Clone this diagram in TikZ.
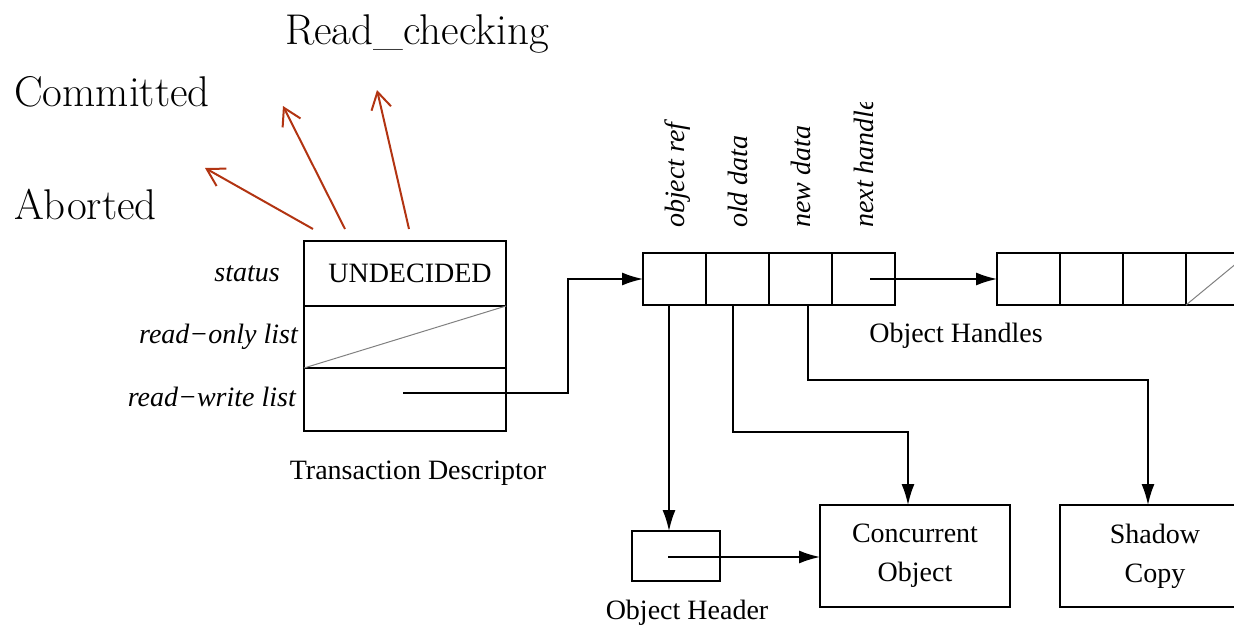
\documentclass[tikz,border=0pt]{standalone}
\usepackage{fontspec}
\usetikzlibrary{arrows.meta}
\newfontfamily\figfont{Liberation Serif}
\definecolor{statered}{RGB}{178,52,18}

\begin{document}
\begin{tikzpicture}[x=1pt,y=-1pt,
  box/.style={draw, line width=1.6pt, inner sep=0pt, outer sep=0pt, anchor=north west,
    font=\figfont\fontsize{28}{39}\selectfont, align=center},
  lbl/.style={font=\figfont\itshape\fontsize{28}{30}\selectfont, inner sep=0pt},
  caption/.style={font=\figfont\fontsize{28}{30}\selectfont, inner sep=0pt, anchor=base},
  state/.style={font=\fontsize{43}{46}\selectfont, inner sep=0pt, anchor=base west},
  ptr/.style={line width=1.6pt, -{Latex[length=21pt,width=13pt]}},
  move/.style={draw=statered, line width=2pt,
    -{Straight Barb[length=17pt,width=20pt,line width=2pt]}},
  nil/.style={draw=gray, line width=1pt}
]
\useasboundingbox (0,0) rectangle (1234,629);
\clip (0,0) rectangle (1234,629);

% possible next states of a transaction
\node[state] (rc) at (285,44) {Read\_checking};
\node[state] (cm) at (14,106) {Committed};
\node[state] (ab) at (14,219) {Aborted};

% transaction descriptor
\node[box, minimum width=202pt, minimum height=65pt] (st) at (304,241) {\hspace*{10pt}UNDECIDED};
\node[box, minimum width=202pt, minimum height=62pt] (ro) at (304,306) {};
\node[box, minimum width=202pt, minimum height=63pt] (rw) at (304,368) {};
\draw[nil] (ro.south west) -- (ro.north east);
\node[lbl, anchor=base east] (lst) at (280,281) {status};
\node[lbl, anchor=base east] (lro) at (298,343) {read−only list};
\node[lbl, anchor=base east] (lrw) at (296,406) {read−write list};
\node[caption] (ltd) at (418,479) {Transaction Descriptor};

% state transitions
\coordinate (sa) at (313,229);
\coordinate (sb) at (345,229);
\coordinate (sc0) at (409,229);
\coordinate (ta) at (205,168);
\coordinate (tb) at (283,106);
\coordinate (tc) at (377,90);
\draw[move] (sa) -- (ta);
\draw[move] (sb) -- (tb);
\draw[move] (sc0) -- (tc);

% first object handle
\foreach \i/\x in {1/643,2/706,3/769,4/832}
  \node[box, minimum width=63pt, minimum height=52pt] (h\i) at (\x,253) {};
\node[lbl, rotate=90, anchor=base west] (lor) at (684.5,228) {object ref};
\node[lbl, rotate=90, anchor=base west] (lod) at (747.5,228) {old data};
\node[lbl, rotate=90, anchor=base west] (lnd) at (810.5,228) {new data};
\begin{scope}
  \clip (840,102) rectangle (900,240);
  \node[lbl, rotate=90, anchor=base west] (lnh) at (873.5,228) {next handle};
\end{scope}
\node[caption] (loh) at (956,342) {Object Handles};

% second object handle (end of list)
\foreach \i/\x in {1/997,2/1060,3/1123,4/1186}
  \node[box, minimum width=63pt, minimum height=52pt] (g\i) at (\x,253) {};
\draw[nil] (g4.south west) -- (g4.north east);

% objects
\node[box, minimum width=88pt, minimum height=50pt] (oh) at (632,531) {};
\node[caption] (lhd) at (687,619) {Object Header};
\node[box, minimum width=190pt, minimum height=102pt] (co) at (820,505) {Concurrent\\Object};
\node[box, minimum width=190pt, minimum height=102pt] (sh) at (1060,505) {Shadow\\Copy};

% pointers
\coordinate (rwp) at (403,393);
\coordinate (rwk) at (568,393);
\draw[ptr] (rwp) -- (rwk) |- (h1.west);
\coordinate (nhp) at (870,279);
\draw[ptr] (nhp) -- (g1.west);
\coordinate (orp) at (669,305);
\draw[ptr] (orp) -- (orp |- oh.north);
\coordinate (odp) at (733,305);
\coordinate (odk) at (733,432);
\coordinate (odt) at (908,432);
\draw[ptr] (odp) -- (odk) -- (odt) -- (odt |- co.north);
\coordinate (ndp) at (808,305);
\coordinate (ndk) at (808,380);
\coordinate (ndt) at (1148,380);
\draw[ptr] (ndp) -- (ndk) -- (ndt) -- (ndt |- sh.north);
\coordinate (ohp) at (668,557);
\draw[ptr] (ohp) -- (ohp -| co.west);
\end{tikzpicture}
\end{document}
